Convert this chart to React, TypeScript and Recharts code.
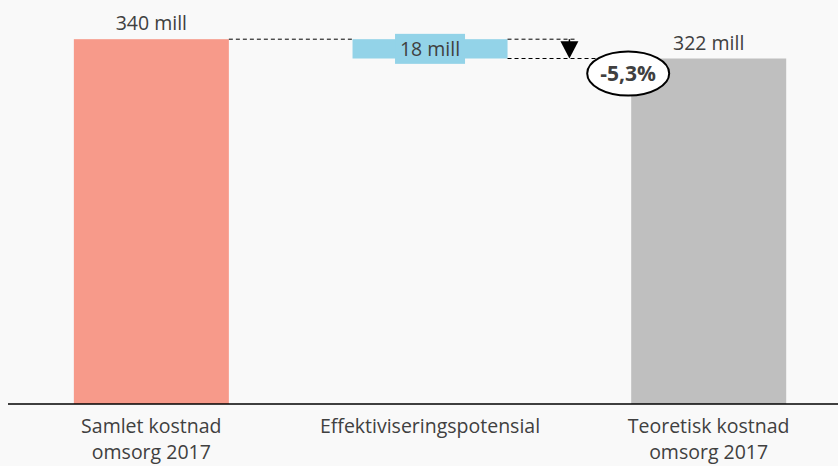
import React from 'react';
import { BarChart, Bar, XAxis, YAxis } from 'recharts';

const categories = ['Samlet kostnad\nomsorg 2017', 'Effektiviseringspotensial', 'Teoretisk kostnad\nomsorg 2017'];
const baseValues = [0, 322, 0];
const barValues = [340, 18, 322];
const valueLabels = ['340 mill', '18 mill', '322 mill'];
const changeLabel = '-5,3%';
const barColors = ['#F79A8A', '#93D3E8', '#BFBFBF'];

const data = categories.map((name, i) => ({
  name,
  base: baseValues[i],
  value: barValues[i],
  label: valueLabels[i],
}));

const FONT = '"Open Sans", sans-serif';
const TEXT = '#404040';
const GAP_RATIO = 0.222; // barCategoryGap on each side of a bar

const CategoryTick = ({ x, y, payload }: any) => {
  const lines = String(payload.value).split('\n');
  return (
    <text x={x} y={y} textAnchor="middle" fill={TEXT} fontFamily={FONT} fontSize={19.5}>
      {lines.map((l, i) => (
        <tspan key={i} x={x} dy={i === 0 ? 21 : 26}>{l}</tspan>
      ))}
    </text>
  );
};

const ValueShape = (props: any) => {
  const { x, y, width, height, index, payload } = props;
  // distance between neighbouring bars, derived from the bar width
  const gap = (width * 2 * GAP_RATIO) / (1 - 2 * GAP_RATIO);
  const right = x + width;
  const dash = { stroke: '#000', strokeWidth: 1, strokeDasharray: '4 3' };

  if (index === 1) {
    const cx = x + width / 2;
    const cy = y + height / 2;
    const arrowX = right + gap / 2;
    return (
      <g>
        <rect x={x} y={y} width={width} height={height} fill={barColors[index]} />
        <rect x={cx - 35} y={cy - 15} width={70} height={30} fill={barColors[index]} />
        <text x={cx} y={cy + 7} textAnchor="middle" fill={TEXT} fontFamily={FONT} fontSize={19.5}>
          {payload.label}
        </text>
        <line x1={right} y1={y} x2={arrowX + 6} y2={y} {...dash} />
        <line x1={right} y1={y + height} x2={right + gap} y2={y + height} {...dash} />
        <line x1={arrowX} y1={y} x2={arrowX} y2={y + 3} stroke="#000" strokeWidth={1.5} />
        <polygon
          points={`${arrowX - 9},${y + 2} ${arrowX + 9},${y + 2} ${arrowX},${y + height}`}
          fill="#000"
        />
      </g>
    );
  }

  return (
    <g>
      <rect x={x} y={y} width={width} height={height} fill={barColors[index]} />
      <text x={x + width / 2} y={y - 9} textAnchor="middle" fill={TEXT} fontFamily={FONT} fontSize={19.5}>
        {payload.label}
      </text>
      {index === 0 && <line x1={right} y1={y} x2={right + gap} y2={y} {...dash} />}
      {index === 2 && (
        <g>
          <ellipse cx={x - 3} cy={y + 15} rx={41} ry={22} fill="#fff" stroke="#000" strokeWidth={2} />
          <text
            x={x - 3}
            y={y + 22}
            textAnchor="middle"
            fill={TEXT}
            fontFamily={FONT}
            fontSize={21}
            fontWeight={700}
          >
            {changeLabel}
          </text>
        </g>
      )}
    </g>
  );
};

export default function App() {
  return (
    <div style={{ position: 'absolute', left: 0, top: 0, width: 838, height: 466, background: '#F9F9F9', overflow: 'hidden' }}>
      <BarChart
        width={848}
        height={466}
        data={data}
        margin={{ top: 7, right: 0, bottom: 0, left: 8 }}
        barCategoryGap={`${GAP_RATIO * 100}%`}
      >
        <XAxis
          dataKey="name"
          interval={0}
          height={62}
          padding={{ left: 4, right: 0 }}
          axisLine={{ stroke: '#000', strokeWidth: 1.5 }}
          tickLine={false}
          tick={<CategoryTick />}
        />
        <YAxis hide domain={[0, 370]} />
        <Bar dataKey="base" stackId="w" fill="transparent" isAnimationActive={false} />
        <Bar dataKey="value" stackId="w" shape={<ValueShape />} isAnimationActive={false} />
      </BarChart>
    </div>
  );
}
